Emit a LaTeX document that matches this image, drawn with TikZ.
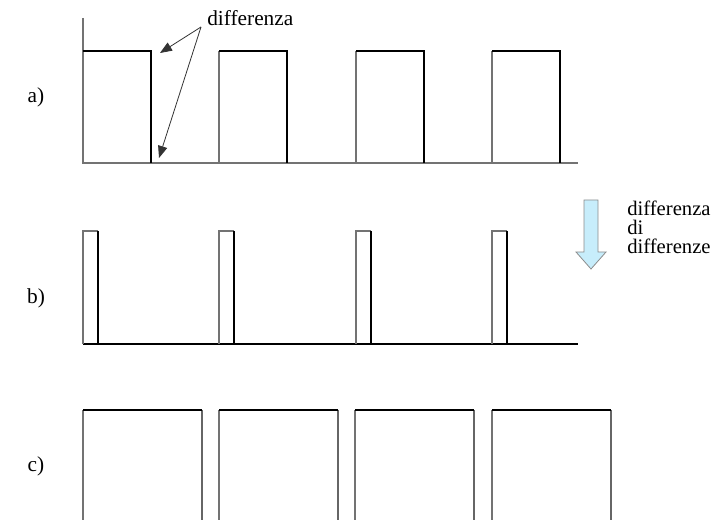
\documentclass[tikz,border=0pt]{standalone}
\usepackage{fontspec}
\setmainfont{Liberation Serif}
\usetikzlibrary{arrows.meta}
\begin{document}
\begin{tikzpicture}[x=0.75pt,y=-0.75pt,
  thinline/.style={draw=black!55,line width=0.8pt},
  thickline/.style={draw=black,line width=1.5pt},
  lbl/.style={font=\fontsize{16}{18}\selectfont,inner sep=0pt},
  side/.style={font=\fontsize{15.5}{18}\selectfont,inner sep=0pt,anchor=base west},
  ptr/.style={draw=black!80,line width=0.6pt,-{Triangle[length=9pt,width=7pt]}}]
\useasboundingbox (0,0) rectangle (715,520);
% labels
\node[lbl] (la) at (36,97) {a)};
\node[lbl] (lb) at (36,298) {b)};
\node[lbl] (lc) at (36,466) {c)};
% panel a
\draw[thinline] (83,18) -- (83,163) -- (578,163);
\foreach \x in {83,219,356,492}{
  \draw[thinline] (\x,163) -- (\x,51);
  \draw[thickline] (\x,51) -- (\x+68,51) -- (\x+68,163);
}
\node[lbl,anchor=base west] (dif) at (207,26) {differenza};
\coordinate (o) at (201,27);
\coordinate (t1) at (160,53);
\coordinate (t2) at (159,158);
\draw[ptr] (o) -- (t1);
\draw[ptr] (o) -- (t2);
% panel b
\draw[thickline] (83,344) -- (578,344);
\foreach \x in {83,219,356,492}{
  \draw[thinline] (\x,344) -- (\x,231) -- (\x+15,231);
  \draw[thickline] (\x+15,231) -- (\x+15,344);
}
% block arrow
\draw[draw=black!45, fill=cyan!22!white, line width=0.6pt]
  (584,200) -- (598,200) -- (598,252) -- (606,252) -- (591,269)
  -- (576,252) -- (584,252) -- cycle;
\node[side] (d1) at (627,216) {differenza};
\node[side] (d2) at (627,235) {di};
\node[side] (d3) at (627,254) {differenze};
% panel c
\foreach \x in {83,219,355,492}{
  \draw[thinline] (\x,525) -- (\x,410);
  \draw[thinline,draw=black!60] (\x+119,410) -- (\x+119,525);
  \draw[thickline] (\x,410) -- (\x+119,410);
}
\end{tikzpicture}
\end{document}
